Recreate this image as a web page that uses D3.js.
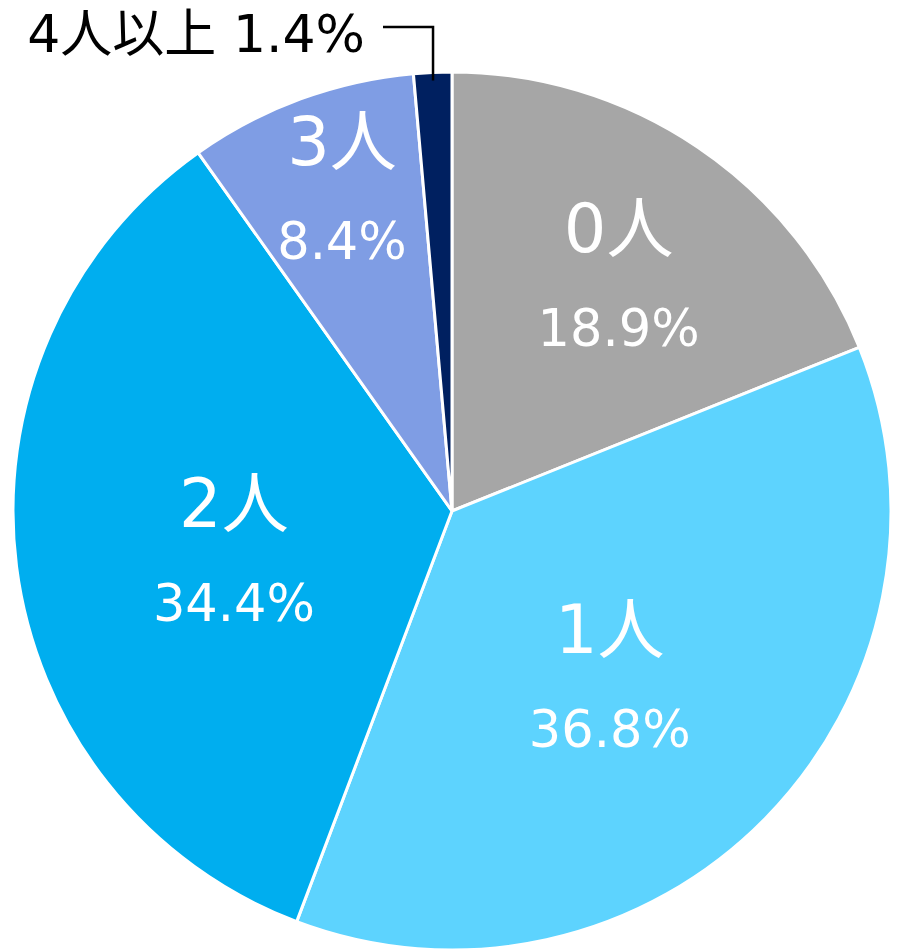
<!DOCTYPE html>
<html><head><meta charset="utf-8">
<script src="https://cdn.jsdelivr.net/npm/d3@7"></script>
<style>html,body{margin:0;padding:0;background:#fff;}svg{display:block;}</style>
</head><body>
<script>
const categories = ["0人", "1人", "2人", "3人", "4人以上"];
const values = [18.9, 36.8, 34.4, 8.4, 1.4];
const colors = ["#a6a6a6", "#5dd3fe", "#00aeef", "#7f9de4", "#002060"];
// label placement (angle in degrees clockwise from top, radius in px) - layout only
const labelPos = [[38.1, 270], [140.1, 246], [253.9, 227], [339.8, 318.6]];

const W = 897, H = 952, cx = 452, cy = 511, R = 439;
const font = "'DejaVu Sans', 'Noto Sans CJK JP', sans-serif";
const svg = d3.select("body").append("svg").attr("width", W).attr("height", H);
const g = svg.append("g").attr("transform", `translate(${cx},${cy})`);
const data = categories.map((c, i) => ({c, v: values[i], col: colors[i]}));
const pie = d3.pie().sort(null).value(d => d.v);
const arc = d3.arc().innerRadius(0).outerRadius(R);
const arcs = pie(data);
g.selectAll("path").data(arcs).join("path")
  .attr("d", arc).attr("fill", d => d.data.col)
  .attr("stroke", "#fff").attr("stroke-width", 3).attr("stroke-linejoin", "round");

arcs.slice(0, 4).forEach((a, i) => {
  const [ang, r] = labelPos[i];
  const t = ang * Math.PI / 180;
  const x = r * Math.sin(t), y = -r * Math.cos(t);
  g.append("text").attr("x", x).attr("y", y - 47).attr("text-anchor", "middle")
    .attr("font-family", font).attr("font-size", 67).attr("fill", "#fff")
    .text(a.data.c);
  g.append("text").attr("x", x).attr("y", y + 47).attr("text-anchor", "middle")
    .attr("font-family", font).attr("font-size", 51).attr("fill", "#fff")
    .text(a.data.v.toFixed(1) + "%");
});

// outside label for last slice
const last = arcs[4];
const mid = (last.startAngle + last.endAngle) / 2;
const px = (R - 8) * Math.sin(mid), py = -(R - 8) * Math.cos(mid);
const elbowY = 27 - cy;
g.append("path")
  .attr("d", `M${px},${py}V${elbowY}H${383 - cx}`)
  .attr("fill", "none").attr("stroke", "#000").attr("stroke-width", 2.5);
g.append("text").attr("x", 365 - cx).attr("y", 52 - cy).attr("text-anchor", "end")
  .attr("font-family", font).attr("font-size", 52).attr("fill", "#000")
  .text(last.data.c + " " + last.data.v.toFixed(1) + "%");
</script>
</body></html>
